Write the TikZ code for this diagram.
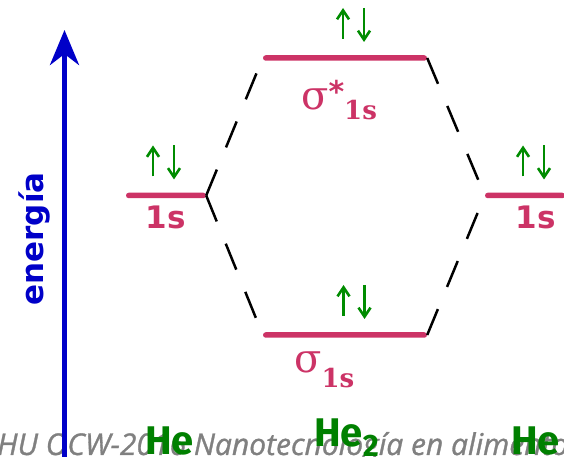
\documentclass[tikz,border=0pt]{standalone}
\usepackage{fontspec}
\usepackage{tikz}
\usetikzlibrary{positioning,arrows.meta}
\setmainfont{DejaVu Sans}
\newfontfamily\sigfont{DejaVu Serif}
\newfontfamily\atomfont{Fira Sans}
\newfontfamily\wmfont[FakeBold=1]{Open Sans}
\definecolor{levpink}{RGB}{204,51,102}
\definecolor{spingreen}{RGB}{0,140,0}
\definecolor{atomgreen}{RGB}{0,128,0}
\definecolor{energyblue}{RGB}{0,0,200}
\definecolor{wmgray}{RGB}{128,128,128}
\tikzset{
  level/.style={rectangle,fill=levpink,minimum height=5.5pt,inner sep=0pt,rounded corners=2.7pt},
  orblab/.style={inner sep=0pt,text=levpink,font=\bfseries\fontsize{31}{31}\selectfont},
  siglab/.style={inner sep=0pt,text=levpink,anchor=base west},
  corr/.style={draw=black,line width=2.5pt,dash pattern=on 28pt off 24pt},
  spin/.style={draw=spingreen,line width=2.6pt,-{Straight Barb[length=9pt,width=12pt,line width=2.6pt]}},
  atom/.style={inner sep=0pt,anchor=base west,text=atomgreen,font=\atomfont\bfseries\fontsize{40}{40}\selectfont},
  energy/.style={draw=energyblue,line width=5pt,-{Stealth[length=35pt,width=29pt,inset=11pt]}}
}
\newcommand{\spinpair}[2]{%
  \draw[spin] ([xshift=#2-10.5pt,yshift=19pt]#1.center) -- ++(0,31pt);
  \draw[spin] ([xshift=#2+10.5pt,yshift=50pt]#1.center) -- ++(0,-34pt);}

\begin{document}
\begin{tikzpicture}[x=1pt,y=1pt]
  \useasboundingbox (0,0) rectangle (564,457);
  \clip (0,0) rectangle (564,457);
  % watermark
  \node[inner sep=0pt,anchor=base west,text=wmgray,font=\wmfont\itshape\fontsize{30}{30}\selectfont] (wm) at (-3,2) {HU OCW-2016 Nanotecnología en alimentos};
  % energy axis
  \coordinate (e0) at (64.5,0);
  \coordinate (e1) at (64.5,427);
  \draw[energy] (e0) -- (e1);
  \node[rotate=90,inner sep=0pt,text=energyblue,font=\bfseries\fontsize{31}{31}\selectfont] (en) at (34,218) {energía};
  % levels
  \node[level,minimum width=80pt] (A1) at (166,261.5) {};
  \node[level,minimum width=80pt] (B1) at (525,261.5) {};
  \node[level,minimum width=164pt] (sigst) at (345,399) {};
  \node[level,minimum width=164pt] (sig) at (345,122) {};
  \draw[corr] (A1.east) -- (sigst.west);
  \draw[corr] (A1.east) -- (sig.west);
  \draw[corr] (sigst.east) -- (B1.west);
  \draw[corr] (sig.east) -- (B1.west);
  % electrons
  \spinpair{A1}{-2.5pt}
  \spinpair{B1}{8.5pt}
  \spinpair{sigst}{8.5pt}
  \spinpair{sig}{9pt}
  % labels
  \node[orblab,anchor=base] (A1lab) at (166,228) {1s};
  \node[orblab,anchor=base] (B1lab) at (536,228) {1s};
  \node[siglab] (sigstlab) at (301,347) {{\sigfont\fontsize{40}{40}\selectfont σ}\raisebox{7pt}{\bfseries\fontsize{30}{30}\selectfont *}\raisebox{-10pt}{\sigfont\bfseries\fontsize{26}{26}\selectfont 1s}};
  \node[siglab] (siglab) at (294,84) {{\sigfont\fontsize{40}{40}\selectfont σ}\raisebox{-15pt}{\sigfont\bfseries\fontsize{26}{26}\selectfont 1s}};
  \node[atom] (HeA) at (145,2) {He};
  \node[atom] (HeM) at (314,10) {He\raisebox{-10pt}{\fontsize{31}{31}\selectfont 2}};
  \node[atom] (HeB) at (511,2) {He};
\end{tikzpicture}
\end{document}
